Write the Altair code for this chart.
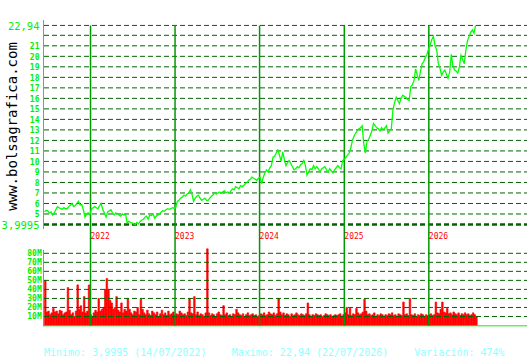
import altair as alt
import pandas as pd

# ---------------- data ----------------
start_date = "2021-06-16"  # first weekly sample

price = [
    5.2, 5.35, 5.3, 5.1, 5.2, 4.9, 5.1, 5.4, 5.7, 5.6,
    5.5, 5.45, 5.6, 5.5, 5.5, 5.7, 5.85, 6.0, 5.7, 5.8,
    6.0, 6.2, 5.85, 5.9, 5.4, 4.7, 5.0, 5.1, 4.9, 5.5,
    5.6, 5.7, 5.6, 5.5, 5.8, 6.0, 5.4, 5.1, 4.7, 5.2,
    5.3, 5.4, 5.1, 4.9, 5.1, 5.0, 4.9, 4.8, 5.0, 4.9,
    5.0, 4.15, 4.3, 4.2, 4.15, 4.05, 3.9995, 4.2, 4.05, 4.3,
    4.4, 4.5, 4.7, 4.8, 4.5, 4.9, 4.85, 5.0, 4.6, 4.8,
    4.9, 5.0, 5.2, 5.3, 5.25, 5.4, 5.5, 5.45, 5.5, 5.6,
    5.55, 5.6, 6.2, 6.3, 6.5, 6.6, 6.8, 6.7, 6.9, 7.0,
    7.3, 6.9, 6.2, 6.5, 6.7, 6.8, 6.5, 6.3, 6.4, 6.5,
    6.3, 6.3, 6.5, 6.7, 6.8, 7.0, 6.9, 7.0, 7.1, 7.0,
    7.1, 7.2, 7.0, 7.1, 7.0, 7.2, 7.4, 7.3, 7.6, 7.5,
    7.4, 7.7, 7.6, 7.7, 7.9, 8.0, 8.2, 8.3, 8.5, 8.4,
    8.3, 8.2, 8.4, 8.5, 7.9, 8.5, 8.9, 9.2, 9.0, 9.4,
    9.6, 10.4, 10.5, 10.8, 11.1, 10.6, 10.0, 10.9, 10.2, 9.6,
    9.9, 10.1, 9.8, 9.5, 9.2, 9.3, 9.5, 9.4, 9.7, 9.8,
    10.1, 9.6, 8.7, 9.0, 9.3, 9.2, 9.6, 9.3, 9.5, 9.3,
    9.0, 9.3, 9.4, 9.5, 9.2, 9.0, 9.3, 9.1, 8.9, 9.2,
    9.4, 9.6, 9.4, 9.3, 10.1, 10.2, 10.4, 10.6, 10.8, 11.3,
    12.0, 12.4, 12.7, 12.9, 13.1, 13.2, 13.4, 11.7, 10.8, 11.9,
    12.1, 12.5, 12.9, 13.6, 13.4, 13.2, 13.1, 12.9, 13.2, 13.0,
    13.2, 13.4, 12.7, 12.9, 13.1, 14.9, 15.6, 16.1, 15.8, 15.5,
    16.0, 16.3, 16.2, 16.1, 15.9, 15.8, 17.1, 17.3, 17.7, 18.8,
    18.2, 17.7, 18.6, 19.3, 19.5, 19.9, 20.2, 20.7, 21.1, 21.6,
    21.9, 21.0, 20.6, 19.3, 18.9, 18.2, 18.5, 18.7, 18.3, 17.9,
    18.5, 20.2, 19.1, 18.7, 18.6, 18.4, 19.0, 20.1, 19.7, 19.3,
    20.6, 21.5, 21.9, 22.3, 22.5, 22.2, 22.94,
]

volume_m = [
    50, 15, 16, 12, 14, 19, 15, 16, 13, 17,
    16, 12, 14, 15, 42, 17, 12, 14, 10, 16,
    45, 18, 22, 15, 32, 14, 16, 45, 12, 10,
    14, 17, 15, 30, 16, 18, 20, 40, 52, 40,
    28, 25, 18, 20, 32, 17, 15, 25, 14, 18,
    16, 30, 18, 14, 12, 16, 15, 20, 12, 29,
    18, 14, 12, 17, 13, 11, 16, 14, 12, 15,
    10, 13, 17, 12, 14, 11, 16, 12, 13, 15,
    11, 13, 12, 16, 14, 12, 13, 11, 15, 30,
    14, 13, 32, 12, 15, 11, 13, 12, 10, 14,
    85, 14, 11, 13, 12, 10, 13, 15, 12, 11,
    22, 12, 14, 11, 12, 10, 13, 12, 18, 14,
    12, 11, 13, 10, 12, 14, 11, 12, 13, 11,
    12, 10, 11, 13, 12, 14, 11, 12, 15, 13,
    12, 14, 11, 13, 30, 15, 12, 14, 11, 13,
    12, 10, 13, 11, 12, 14, 12, 11, 13, 12,
    11, 13, 25, 12, 10, 12, 11, 13, 12, 11,
    12, 10, 11, 13, 12, 11, 12, 10, 11, 12,
    11, 12, 13, 10, 12, 14, 20, 12, 19, 11,
    13, 12, 19, 14, 12, 13, 15, 29, 16, 12,
    13, 11, 12, 14, 10, 12, 11, 13, 12, 10,
    12, 11, 13, 12, 14, 11, 12, 10, 13, 12,
    11, 26, 12, 13, 11, 30, 12, 11, 13, 10,
    12, 11, 13, 12, 10, 12, 11, 12, 13, 11,
    12, 26, 14, 13, 18, 26, 15, 14, 19, 13,
    14, 12, 15, 13, 12, 14, 11, 13, 12, 14,
    12, 13, 11, 12, 14, 12, 10,
]

years = [2022, 2023, 2024, 2025, 2026]
price_ticks = [5, 6, 7, 8, 9, 10, 11, 12, 13, 14, 15, 16, 17, 18, 19, 20, 21]
price_grid = [5, 6, 7, 8, 9, 10, 11, 12, 13, 14, 15, 16, 17, 18, 19, 20, 21, 22, 22.94]
price_min = 3.9995
price_max = 22.94
price_min_label = "3,9995"
price_max_label = "22,94"
vol_ticks = [10, 20, 30, 40, 50, 60, 70, 80]
site = "www.bolsagrafica.com"
footer_min = "Minimo: 3,9995 (14/07/2022)"
footer_max = "Maximo: 22,94 (22/07/2026)"
footer_var = "Variación: 474%"

# ---------------- tables ----------------
dates = pd.date_range(start_date, periods=len(price), freq="7D")
df = pd.DataFrame({
    "date": dates,
    "end": dates + pd.Timedelta(days=7),
    "price": price,
    "vol": volume_m,
    "base": [0] * len(price),
})
pgrid = pd.DataFrame({"v": price_grid})
plab = pd.DataFrame({"v": price_ticks, "label": [str(t) for t in price_ticks]})
pext = pd.DataFrame({"v": [price_max], "label": [price_max_label]})
pmin = pd.DataFrame({"v": [price_min], "label": [price_min_label]})
vlab = pd.DataFrame({"v": vol_ticks, "label": [f"{t}M" for t in vol_ticks]})
ydf = pd.DataFrame({
    "date": [pd.Timestamp(f"{y}-01-01") for y in years],
    "label": [str(y) for y in years],
    "top": [price_max] * len(years),
    "bot": [-5.61] * len(years),
})
one = pd.DataFrame({"a": [0]})

# ---------------- styling ----------------
MONO = "DejaVu Sans Mono"
LABEL_GREEN = "#00ee00"
GRID_GREEN = "#006400"
YEAR_GREEN = "#009900"
AXIS_GREEN = "#22dd22"

xs = alt.Scale(domain=[alt.DateTime(year=2021, month=6, date=14),
                       alt.DateTime(year=2027, month=3, date=1)])
ps = alt.Scale(domain=[-5.658, 23.457], nice=False, zero=False)
vs = alt.Scale(domain=[-0.55, 338.5], nice=False, zero=False)

W, H = 483, 306

# ---------------- volume layer ----------------
bars = alt.Chart(df).mark_bar(color="#ff0000", stroke="#ff0000", strokeWidth=0.6).encode(
    x=alt.X("date:T", scale=xs, axis=None),
    x2="end:T",
    y=alt.Y("vol:Q", scale=vs, axis=None),
    y2="base:Q",
)
vgrid = alt.Chart(vlab).mark_rule(color=GRID_GREEN, strokeDash=[5, 3], strokeWidth=1).encode(
    y=alt.Y("v:Q", scale=vs, axis=None),
    x=alt.value(0), x2=alt.value(W),
)
vtext = alt.Chart(vlab).mark_text(
    align="right", baseline="middle", font=MONO, fontSize=8, fontWeight="bold",
    color=LABEL_GREEN, dy=0.5,
).encode(y=alt.Y("v:Q", scale=vs, axis=None), x=alt.value(-2.3), text="label:N")
vleft = alt.Chart(one).mark_rule(color=AXIS_GREEN, strokeWidth=1).encode(
    x=alt.value(-0.5), y=alt.datum(83.7, scale=vs), y2=alt.datum(-0.55),
)
vbottom = alt.Chart(one).mark_rule(color=AXIS_GREEN, strokeWidth=1).encode(
    y=alt.datum(-0.35, scale=vs), x=alt.value(-1), x2=alt.value(W),
)
vol_layer = alt.layer(bars, vgrid, vtext, vleft, vbottom)

# ---------------- price layer ----------------
pgrid_m = alt.Chart(pgrid).mark_rule(color=GRID_GREEN, strokeDash=[5, 3], strokeWidth=1).encode(
    y=alt.Y("v:Q", scale=ps, axis=None), x=alt.value(0), x2=alt.value(W),
)
pmin_rule = alt.Chart(pmin).mark_rule(color=GRID_GREEN, strokeDash=[5, 3], strokeWidth=2.5).encode(
    y=alt.Y("v:Q", scale=ps, axis=None), x=alt.value(0), x2=alt.value(W),
)
yrules = alt.Chart(ydf).mark_rule(color=YEAR_GREEN, strokeWidth=1.5).encode(
    x=alt.X("date:T", scale=xs, axis=None),
    y=alt.Y("top:Q", scale=ps, axis=None), y2="bot:Q",
)
ytext = alt.Chart(ydf).mark_text(
    align="left", baseline="alphabetic", font=MONO, fontSize=8, color="#ff0000",
).encode(x=alt.X("date:T", scale=xs, axis=None), y=alt.value(219), text="label:N")
line = alt.Chart(df).mark_line(color="#00ff00", strokeWidth=1.3).encode(
    x=alt.X("date:T", scale=xs, axis=None),
    y=alt.Y("price:Q", scale=ps, axis=None),
)
ptext = alt.Chart(plab).mark_text(
    align="right", baseline="middle", font=MONO, fontSize=8, fontWeight="bold",
    color=LABEL_GREEN, dy=1.5,
).encode(y=alt.Y("v:Q", scale=ps, axis=None), x=alt.value(-4.5), text="label:N")
pmax_text = alt.Chart(pext).mark_text(
    align="right", baseline="middle", font=MONO, fontSize=10.5, color=LABEL_GREEN, dy=1.3,
).encode(y=alt.Y("v:Q", scale=ps, axis=None), x=alt.value(-4.5), text="label:N")
pmin_text = alt.Chart(pmin).mark_text(
    align="right", baseline="middle", font=MONO, fontSize=10.5, color=LABEL_GREEN, dy=2,
).encode(y=alt.Y("v:Q", scale=ps, axis=None), x=alt.value(-4.5), text="label:N")
pleft = alt.Chart(one).mark_rule(color=AXIS_GREEN, strokeWidth=1).encode(
    x=alt.value(-0.5), y=alt.datum(23.457, scale=ps), y2=alt.datum(3.57),
)
site_text = alt.Chart(one).mark_text(
    text=site, angle=270, align="center", baseline="alphabetic", font=MONO,
    fontSize=14, color="#000000",
).encode(x=alt.value(-27), y=alt.value(106.4))
FOOT = "#90ffff"
f1 = alt.Chart(one).mark_text(text=footer_min, align="left", baseline="alphabetic",
                              font=MONO, fontSize=10, color=FOOT).encode(
    x=alt.value(0), y=alt.value(335.5))
f2 = alt.Chart(one).mark_text(text=footer_max, align="left", baseline="alphabetic",
                              font=MONO, fontSize=10, color=FOOT).encode(
    x=alt.value(187.7), y=alt.value(335.5))
f3 = alt.Chart(one).mark_text(text=footer_var, align="left", baseline="alphabetic",
                              font=MONO, fontSize=10, color=FOOT).encode(
    x=alt.value(370.3), y=alt.value(335.5))

price_layer = alt.layer(pgrid_m, pmin_rule, yrules, ytext, line, ptext, pmax_text,
                        pmin_text, pleft, site_text, f1, f2, f3)

chart = alt.layer(vol_layer, price_layer).resolve_scale(y="independent").properties(
    width=W, height=H,
    autosize=alt.AutoSizeParams(type="none"),
    padding={"left": 44, "top": 20, "right": 3, "bottom": 34},
    background="#ffffff",
).configure_view(stroke="transparent")

chart.save("out.html", embed_options={"renderer": "svg", "actions": False})
